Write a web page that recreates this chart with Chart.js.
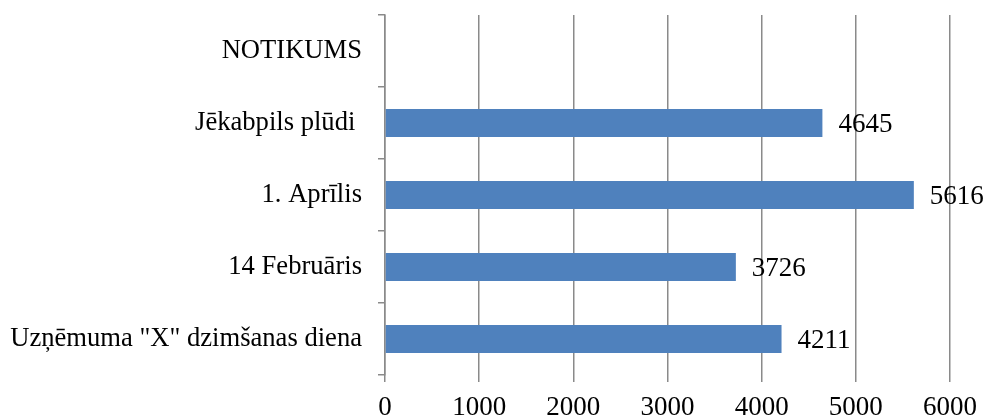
<!DOCTYPE html>
<html>
<head>
<meta charset="utf-8">
<script src="https://cdn.jsdelivr.net/npm/chart.js@4/dist/chart.umd.min.js"></script>
<style>
  html, body { margin: 0; padding: 0; background: #fff; }
  #wrap { width: 987px; height: 416px; }
</style>
</head>
<body>
<div id="wrap"><canvas id="chart"></canvas></div>
<script>
// dati no attēla
const categories = ['NOTIKUMS', 'Jēkabpils plūdi ', '1. Aprīlis', '14 Februāris', 'Uzņēmuma "X" dzimšanas diena'];
const values = [null, 4645, 5616, 3726, 4211];
const xTicks = [0, 1000, 2000, 3000, 4000, 5000, 6000];

const FONT = "'Liberation Serif', 'Times New Roman', serif";
const GRID = '#8a8a8a';

// vērtības pa labi no stabiņiem
const valueLabels = {
    id: 'valueLabels',
    afterDatasetsDraw(chart) {
        const ctx = chart.ctx;
        const meta = chart.getDatasetMeta(0);
        ctx.save();
        ctx.font = '27px ' + FONT;
        ctx.fillStyle = '#000';
        ctx.textAlign = 'left';
        ctx.textBaseline = 'middle';
        meta.data.forEach((bar, i) => {
            if (values[i] == null) return;
            ctx.fillText(String(values[i]), bar.x + 16, bar.y + 2);
        });
        ctx.restore();
    }
};

const ctx = document.getElementById('chart').getContext('2d');
new Chart(ctx, {
    type: 'bar',
    data: {
        labels: categories,
        datasets: [{
            data: values,
            backgroundColor: '#4f81bd',
            borderWidth: 0,
            categoryPercentage: 1,
            barPercentage: 0.39
        }]
    },
    options: {
        indexAxis: 'y',
        animation: false,
        responsive: true,
        maintainAspectRatio: false,
        layout: { padding: { top: 15, right: 32, left: 0, bottom: 0 } },
        plugins: {
            legend: { display: false },
            tooltip: { enabled: false }
        },
        scales: {
            x: {
                min: 0,
                max: 6000,
                afterBuildTicks: (scale) => { scale.ticks = xTicks.map(v => ({ value: v })); },
                afterFit: (scale) => { scale.height = 41; },
                grid: {
                    color: GRID,
                    lineWidth: 1.5,
                    tickLength: 7,
                    tickColor: GRID
                },
                border: { display: false },
                ticks: {
                    color: '#000',
                    padding: 10,
                    maxRotation: 0,
                    callback: (v) => String(v),
                    font: { family: FONT, size: 27 }
                }
            },
            y: {
                afterFit: (scale) => {
                    scale.width = 385;
                    scale.paddingTop = 0;
                    scale.paddingBottom = 0;
                },
                grid: {
                    offset: true,
                    drawOnChartArea: false,
                    tickLength: 7,
                    color: GRID,
                    lineWidth: 1.5
                },
                border: { display: true, color: GRID, width: 1.5 },
                ticks: {
                    color: '#000',
                    padding: 16,
                    font: { family: FONT, size: 26.6 }
                }
            }
        }
    },
    plugins: [valueLabels]
});
</script>
</body>
</html>
